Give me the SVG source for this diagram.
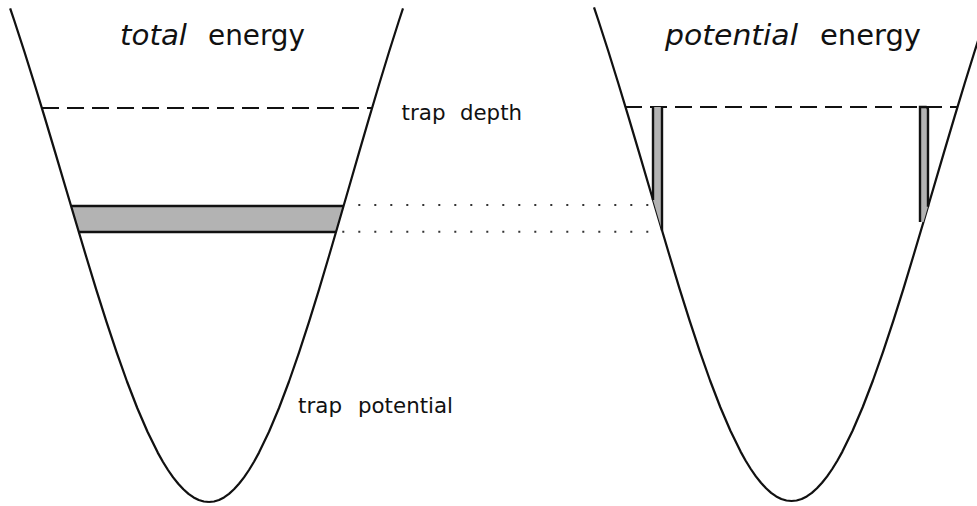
<svg xmlns="http://www.w3.org/2000/svg" xmlns:xlink="http://www.w3.org/1999/xlink" width="977" height="506" viewBox="0 0 977 506">
<style>
.curve{fill:none;stroke:#111;stroke-width:2.2;stroke-linejoin:round;vector-effect:non-scaling-stroke}
.dash{fill:none;stroke:#111;stroke-width:2;stroke-dasharray:17 8}
.dot{fill:none;stroke:#333;stroke-width:2;stroke-dasharray:2 14}
.shade{fill:#b3b3b3}
.edge{fill:none;stroke:#111;stroke-width:2.4}
.title{font-family:"DejaVu Sans","Liberation Sans",sans-serif;font-size:29px;fill:#111}
.lab{font-family:"DejaVu Sans","Liberation Sans",sans-serif;font-size:22px;fill:#111}
</style>
<defs>
<path id="halfL" d="M-194,-493.7 L-190,-481.5 -180,-450 -170,-417.2 -160,-383.6 -150,-349.4 -140,-314.8 -130,-280.2 -120,-246 -110,-212.4 -100,-180.1 -90,-149.3 -80,-120.5 -70,-94 -60,-70.2 -50,-49.4 -45,-40.3 -40,-32 -35,-24.6 -30,-18.2 -25,-12.7 -20,-8.1 -15,-4.6 -10,-2 -5,-0.5 0,0"/>
<path id="well" d="M-194,-493.7 L-190,-481.5 -180,-450 -170,-417.2 -160,-383.6 -150,-349.4 -140,-314.8 -130,-280.2 -120,-246 -110,-212.4 -100,-180.1 -90,-149.3 -80,-120.5 -70,-94 -60,-70.2 -50,-49.4 -45,-40.3 -40,-32 -35,-24.6 -30,-18.2 -25,-12.7 -20,-8.1 -15,-4.6 -10,-2 -5,-0.5 0,0 5,-0.5 10,-2 15,-4.6 20,-8.1 25,-12.7 30,-18.2 35,-24.6 40,-32 45,-40.3 50,-49.4 60,-70.2 70,-94 80,-120.5 90,-149.3 100,-180.1 110,-212.4 120,-246 130,-280.2 140,-314.8 150,-349.4 160,-383.6 170,-417.2 180,-450 190,-481.5 194,-493.7"/>
</defs>

<g id="left-well">
  <polygon class="shade" points="71,206 343.6,206 336,232 78.8,232"/>
  <line class="edge" x1="71" y1="206" x2="343.6" y2="206"/>
  <line class="edge" x1="78.8" y1="232" x2="336" y2="232"/>
  <use xlink:href="#halfL" class="curve" transform="translate(209,502) scale(1.025,1)"/>
  <use xlink:href="#halfL" class="curve" transform="translate(209,502) scale(-1,1)"/>
  <line class="dash" x1="42" y1="108" x2="372" y2="108"/>
</g>

<g id="right-well">
  <use xlink:href="#well" class="curve" transform="translate(791.5,501) scale(1.018,1)"/>
  <line class="dash" x1="625" y1="107" x2="957" y2="107"/>
  <polygon class="shade" points="653,107 662,107 662,230.4 653,199.9"/>
  <line class="edge" x1="653" y1="107" x2="653" y2="200"/>
  <line class="edge" x1="662" y1="107" x2="662" y2="230.5"/>
  <path class="shade" d="M920,107 L926,107 Q928,107 928,110 L928,206.7 L923.5,222 L920,222 Z"/>
  <path class="edge" d="M920,222 L920,107 L926,107 Q928,107 928,110 L928,206.7"/>
</g>

<g id="connectors">
  <line class="dot" x1="358.3" y1="205" x2="649.3" y2="205"/>
  <line class="dot" x1="342.3" y1="231.7" x2="649.3" y2="231.7"/>
</g>

<g id="labels">
  <text class="title" x="120" y="45" font-style="italic" textLength="67" lengthAdjust="spacingAndGlyphs">total</text>
  <text class="title" x="208" y="45" textLength="97" lengthAdjust="spacingAndGlyphs">energy</text>
  <text class="title" x="665" y="45" font-style="italic" textLength="133" lengthAdjust="spacingAndGlyphs">potential</text>
  <text class="title" x="820" y="45" textLength="101" lengthAdjust="spacingAndGlyphs">energy</text>
  <text class="lab" x="401.5" y="120" textLength="44" lengthAdjust="spacingAndGlyphs">trap</text>
  <text class="lab" x="460" y="120" textLength="62" lengthAdjust="spacingAndGlyphs">depth</text>
  <text class="lab" x="298" y="413" textLength="44" lengthAdjust="spacingAndGlyphs">trap</text>
  <text class="lab" x="358" y="413" textLength="95" lengthAdjust="spacingAndGlyphs">potential</text>
</g>
</svg>
